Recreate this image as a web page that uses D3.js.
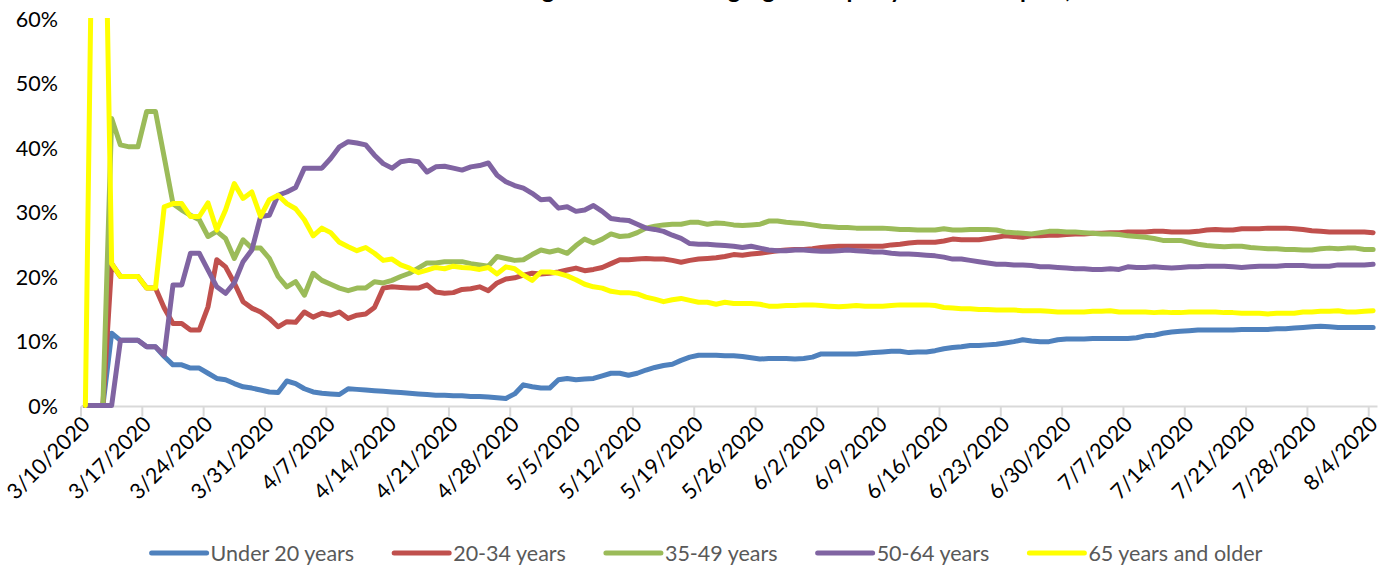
<!DOCTYPE html>
<html><head><meta charset="utf-8">
<script src="https://cdn.jsdelivr.net/npm/d3@7"></script>
<style>body{margin:0;background:#fff;overflow:hidden} svg{display:block}</style>
</head><body>
<svg id="chart" width="1389" height="567"></svg>
<script>
const titleText = "Percentage of Cases among Age Groups by Date of Report, 2020";
const seriesNames = ["Under 20 years","20-34 years","35-49 years","50-64 years","65 years and older"];
const seriesColors = ["#4F81BD","#C0504D","#9BBB59","#8064A2","#FFFF00"];
const startDate = "2020-03-10";
const endDate = "2020-08-04";
const tickLabels = ["3/10/2020","3/17/2020","3/24/2020","3/31/2020","4/7/2020","4/14/2020","4/21/2020","4/28/2020","5/5/2020","5/12/2020","5/19/2020","5/26/2020","6/2/2020","6/9/2020","6/16/2020","6/23/2020","6/30/2020","7/7/2020","7/14/2020","7/21/2020","7/28/2020","8/4/2020"];
const yTicks = [0,10,20,30,40,50,60];

const under20 = [0,0,0,11.2,10.1,10.1,10.1,9.1,9.1,7.6,
6.3,6.3,5.8,5.8,5.0,4.2,4.0,3.4,2.9,2.7,
2.4,2.1,2.0,3.8,3.4,2.6,2.1,1.9,1.8,1.7,
2.6,2.5,2.4,2.3,2.2,2.1,2.0,1.9,1.8,1.7,
1.6,1.6,1.5,1.5,1.4,1.4,1.3,1.2,1.1,1.8,
3.2,2.9,2.7,2.7,4.0,4.2,4.0,4.1,4.2,4.6,
5.0,5.0,4.7,5.0,5.5,5.9,6.2,6.4,7.0,7.5,
7.8,7.8,7.8,7.7,7.7,7.6,7.4,7.2,7.3,7.3,
7.3,7.2,7.3,7.5,8.0,8.0,8.0,8.0,8.0,8.1,
8.2,8.3,8.4,8.4,8.2,8.3,8.3,8.5,8.8,9.0,
9.1,9.3,9.3,9.4,9.5,9.7,9.9,10.2,10.0,9.9,
9.9,10.2,10.3,10.3,10.3,10.4,10.4,10.4,10.4,10.4,
10.5,10.8,10.9,11.2,11.4,11.5,11.6,11.7,11.7,11.7,
11.7,11.7,11.8,11.8,11.8,11.8,11.9,11.9,12.0,12.1,
12.2,12.3,12.2,12.1,12.1,12.1,12.1,12.1];

const age20to34 = [0,0,0,22.0,20.0,20.0,20.0,18.2,18.2,15.1,
12.7,12.7,11.7,11.7,15.3,22.6,21.5,19.0,16.1,15.1,
14.5,13.5,12.2,13.0,12.9,14.5,13.7,14.3,14.0,14.5,
13.5,14.0,14.2,15.2,18.2,18.4,18.3,18.2,18.2,18.7,
17.6,17.4,17.5,18.0,18.1,18.4,17.8,19.0,19.6,19.8,
20.2,20.5,20.4,20.5,20.7,21.0,21.3,20.9,21.1,21.4,
22.0,22.6,22.6,22.7,22.8,22.7,22.7,22.5,22.2,22.5,
22.7,22.8,22.9,23.1,23.4,23.3,23.5,23.6,23.8,24.0,
24.1,24.2,24.2,24.3,24.5,24.6,24.7,24.7,24.7,24.7,
24.7,24.7,24.9,25.0,25.2,25.3,25.3,25.3,25.5,25.8,
25.7,25.7,25.7,25.9,26.1,26.3,26.2,26.1,26.3,26.3,
26.4,26.4,26.5,26.6,26.6,26.7,26.7,26.8,26.8,26.9,
26.9,26.9,27.0,27.0,26.9,26.9,26.9,27.0,27.2,27.3,
27.2,27.2,27.4,27.4,27.4,27.5,27.5,27.5,27.4,27.3,
27.1,27.0,26.9,26.9,26.9,26.9,26.9,26.8];

const age35to49 = [0,0,0,44.5,40.4,40.1,40.1,45.6,45.6,38.5,
31.3,30.3,29.5,28.8,26.2,27.0,25.9,22.8,25.7,24.4,
24.4,22.8,20.0,18.4,19.2,17.1,20.5,19.4,18.8,18.2,
17.8,18.2,18.2,19.2,19.0,19.4,20.0,20.5,21.3,22.1,
22.1,22.3,22.3,22.3,22.0,21.8,21.6,23.1,22.8,22.5,
22.6,23.4,24.1,23.8,24.1,23.6,24.8,25.8,25.2,25.8,
26.6,26.2,26.3,26.8,27.5,27.8,28.0,28.1,28.1,28.4,
28.4,28.1,28.3,28.2,28.0,27.9,28.0,28.1,28.6,28.6,
28.4,28.3,28.2,28.0,27.8,27.7,27.6,27.6,27.5,27.5,
27.5,27.5,27.4,27.3,27.3,27.2,27.2,27.2,27.4,27.2,
27.2,27.3,27.3,27.3,27.2,26.9,26.8,26.7,26.6,26.8,
27.0,27.0,26.9,26.9,26.8,26.7,26.6,26.6,26.5,26.3,
26.2,26.1,25.9,25.6,25.6,25.6,25.3,25.0,24.8,24.7,
24.6,24.7,24.7,24.5,24.4,24.3,24.3,24.2,24.2,24.1,
24.1,24.3,24.4,24.3,24.4,24.4,24.2,24.2];

const age50to64 = [0,0,0,0,10.1,10.1,10.1,9.1,9.1,7.8,
18.7,18.7,23.6,23.6,21.0,18.4,17.4,19.0,22.3,24.1,
29.3,29.5,32.6,33.1,33.8,36.8,36.8,36.8,38.3,40.1,
40.9,40.7,40.4,38.8,37.5,36.8,37.8,38.0,37.8,36.2,
37.0,37.1,36.8,36.5,37.0,37.2,37.6,35.7,34.7,34.1,
33.7,32.9,31.9,32.0,30.6,30.8,30.1,30.3,31.0,30.1,
29.0,28.8,28.7,28.1,27.5,27.3,27.0,26.4,25.9,25.1,
25.0,25.0,24.9,24.8,24.7,24.5,24.7,24.4,24.1,24.0,
24.0,24.1,24.1,24.0,23.9,23.9,24.0,24.1,24.0,23.9,
23.8,23.8,23.6,23.5,23.5,23.4,23.3,23.2,23.0,22.7,
22.7,22.5,22.3,22.1,21.9,21.9,21.8,21.8,21.7,21.5,
21.5,21.4,21.3,21.2,21.2,21.1,21.1,21.2,21.1,21.5,
21.4,21.4,21.5,21.4,21.3,21.4,21.5,21.5,21.6,21.6,
21.6,21.5,21.4,21.5,21.6,21.6,21.6,21.7,21.7,21.7,
21.6,21.6,21.6,21.8,21.8,21.8,21.8,21.9];

const age65plus = [0,100,100,22.0,20.0,20.0,20.0,18.2,18.2,30.8,
31.3,31.3,29.3,29.3,31.4,27.2,30.3,34.4,32.1,33.1,
29.3,31.9,32.6,31.3,30.5,28.8,26.3,27.5,26.8,25.3,
24.6,24.0,24.5,23.6,22.5,22.7,21.8,21.3,20.6,21.0,
21.4,21.2,21.6,21.4,21.3,21.1,21.4,20.4,21.5,21.2,
20.2,19.4,20.7,20.7,20.5,20.1,19.5,18.8,18.4,18.2,
17.7,17.5,17.5,17.3,16.8,16.5,16.1,16.4,16.6,16.3,
16.0,16.0,15.7,16.0,15.8,15.8,15.8,15.7,15.4,15.4,
15.5,15.5,15.6,15.6,15.5,15.4,15.3,15.4,15.5,15.4,
15.4,15.4,15.5,15.6,15.6,15.6,15.6,15.5,15.2,15.1,
15.0,15.0,14.9,14.9,14.8,14.8,14.8,14.7,14.7,14.7,
14.6,14.5,14.5,14.5,14.5,14.6,14.6,14.7,14.5,14.5,
14.5,14.5,14.4,14.5,14.4,14.4,14.5,14.5,14.5,14.5,
14.4,14.4,14.3,14.3,14.3,14.2,14.3,14.3,14.3,14.5,
14.5,14.6,14.6,14.7,14.5,14.5,14.6,14.7];

const seriesValues = [under20, age20to34, age35to49, age50to64, age65plus];

const FONT = "Lato, 'Open Sans', sans-serif";
const svg = d3.select("#chart");
const parseISO = d3.timeParse("%Y-%m-%d");
const parseLabel = d3.timeParse("%m/%d/%Y");
const d0 = parseISO(startDate);
const dEnd = d3.timeDay.offset(parseISO(endDate), 1);
const dates = d3.timeDay.range(d0, dEnd);

const x = d3.scaleTime().domain([d0, dEnd]).range([81, 1377.5]);
const y = d3.scaleLinear().domain([0, 60]).range([405.5, 18.5]);
const xMid = d => x(d3.timeHour.offset(d, 12));

// title: as in the reference, it sits above the visible area and only its descenders show
svg.append("text")
  .attr("x", 790).attr("y", -2.5)
  .attr("text-anchor", "middle")
  .style("font-family", FONT).style("font-weight", "bold").style("font-size", "24px")
  .attr("fill", "#000")
  .text(titleText);

// y-axis labels
svg.append("g").selectAll("text").data(yTicks).join("text")
  .attr("x", 58).attr("y", d => y(d))
  .attr("text-anchor", "end").attr("dominant-baseline", "central")
  .style("font-family", FONT).style("font-size", "21.5px").attr("fill", "#000")
  .text(d => d + "%");

// x axis
const xAxisG = svg.append("g");
xAxisG.append("line")
  .attr("x1", x(d0)).attr("x2", x(dEnd)).attr("y1", 406.5).attr("y2", 406.5)
  .attr("stroke", "#d9d9d9").attr("stroke-width", 2);
xAxisG.selectAll("line.tick").data(tickLabels).join("line").attr("class", "tick")
  .attr("x1", d => x(parseLabel(d))).attr("x2", d => x(parseLabel(d)))
  .attr("y1", 406.5).attr("y2", 416.5)
  .attr("stroke", "#d9d9d9").attr("stroke-width", 2);
xAxisG.selectAll("text").data(tickLabels).join("text")
  .attr("transform", d => `translate(${x(parseLabel(d)) + 5},${420}) rotate(-45)`)
  .attr("text-anchor", "end").attr("dy", "0.35em")
  .style("font-family", FONT).style("font-size", "21.5px").attr("fill", "#000")
  .text(d => d);

// lines
svg.append("clipPath").attr("id", "plotClip")
  .append("rect").attr("x", 0).attr("y", 18).attr("width", 1389).attr("height", 400);
const line = d3.line().x((d, i) => xMid(dates[i])).y(d => y(d));
svg.append("g").attr("clip-path", "url(#plotClip)")
  .selectAll("path").data(seriesValues).join("path")
  .attr("d", d => line(d))
  .attr("fill", "none")
  .attr("stroke", (d, i) => seriesColors[i])
  .attr("stroke-width", 5)
  .attr("stroke-linejoin", "round").attr("stroke-linecap", "round");

// legend
const legend = svg.append("g");
const items = legend.selectAll("g").data(seriesNames).join("g");
items.append("line").attr("x1", 0).attr("x2", 55).attr("y1", 0).attr("y2", 0)
  .attr("stroke", (d, i) => seriesColors[i]).attr("stroke-width", 5).attr("stroke-linecap", "round");
items.append("text").attr("x", 59).attr("y", 0).attr("dominant-baseline", "central")
  .style("font-family", FONT).style("font-size", "21.5px").attr("fill", "#595959")
  .text(d => d);
let widths = [];
items.each(function () { widths.push(59 + d3.select(this).select("text").node().getComputedTextLength()); });
const gap = 40;
const total = d3.sum(widths) + gap * (widths.length - 1);
let cx = 707 - total / 2;
items.attr("transform", (d, i) => { const t = `translate(${cx},553)`; cx += widths[i] + gap; return t; });
</script>
</body></html>
